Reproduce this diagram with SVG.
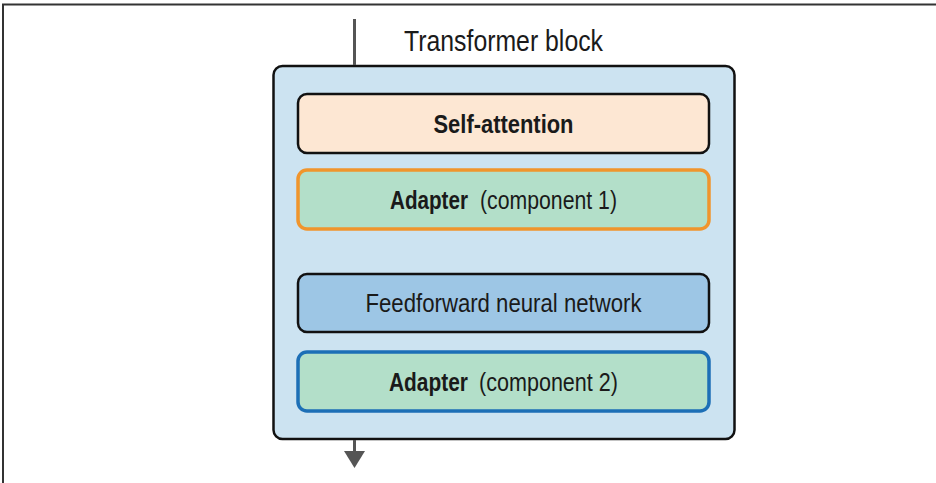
<svg xmlns="http://www.w3.org/2000/svg" width="936" height="483" viewBox="0 0 936 483">
<style>
.box{stroke-width:2.5;stroke:#111}
.lbl{font-family:"Liberation Sans","Open Sans",sans-serif;font-size:26px;fill:#1a1a1a}
.title{font-size:30px}
.b{font-weight:bold}
.wire{stroke:#555;stroke-width:3;fill:none}
</style>
<rect x="0" y="0" width="936" height="483" fill="#fff"/>
<g id="frame" stroke="#333" stroke-width="2" fill="none">
<line x1="2" y1="4.5" x2="936" y2="4.5"/>
<line x1="3" y1="4.5" x2="3" y2="483"/>
</g>
<g id="transformer-block">
<rect x="273.5" y="66" width="461" height="373" rx="9" fill="#cce3f1" class="box"/>
<text x="503.5" y="51" text-anchor="middle" class="lbl title" textLength="199" lengthAdjust="spacingAndGlyphs">Transformer block</text>
</g>
<g id="connectors">
<line x1="354.5" y1="19" x2="354.5" y2="65" class="wire"/>
<line x1="354.5" y1="440" x2="354.5" y2="452" class="wire"/>
<polygon points="344,451 365,451 354.5,468" fill="#555"/>
</g>
<g id="self-attention">
<rect x="298" y="94" width="411" height="59" rx="9" fill="#fde7d3" class="box"/>
<text x="503.5" y="132.5" text-anchor="middle" class="lbl b" textLength="140" lengthAdjust="spacingAndGlyphs">Self-attention</text>
</g>
<g id="adapter-1">
<rect x="298" y="170" width="411" height="59" rx="9" fill="#b3dfc9" stroke="#f0952c" stroke-width="3.5"/>
<text x="390" y="208.5" class="lbl b" textLength="78" lengthAdjust="spacingAndGlyphs">Adapter</text>
<text x="480" y="208.5" class="lbl" textLength="137" lengthAdjust="spacingAndGlyphs">(component 1)</text>
</g>
<g id="feedforward">
<rect x="298" y="274" width="411" height="58" rx="9" fill="#9dc6e5" class="box"/>
<text x="503.5" y="312" text-anchor="middle" class="lbl" textLength="276" lengthAdjust="spacingAndGlyphs">Feedforward neural network</text>
</g>
<g id="adapter-2">
<rect x="298" y="352" width="411" height="59" rx="9" fill="#b3dfc9" stroke="#1c6fb6" stroke-width="3.5"/>
<text x="389" y="390.5" class="lbl b" textLength="79" lengthAdjust="spacingAndGlyphs">Adapter</text>
<text x="479" y="390.5" class="lbl" textLength="139" lengthAdjust="spacingAndGlyphs">(component 2)</text>
</g>
</svg>
